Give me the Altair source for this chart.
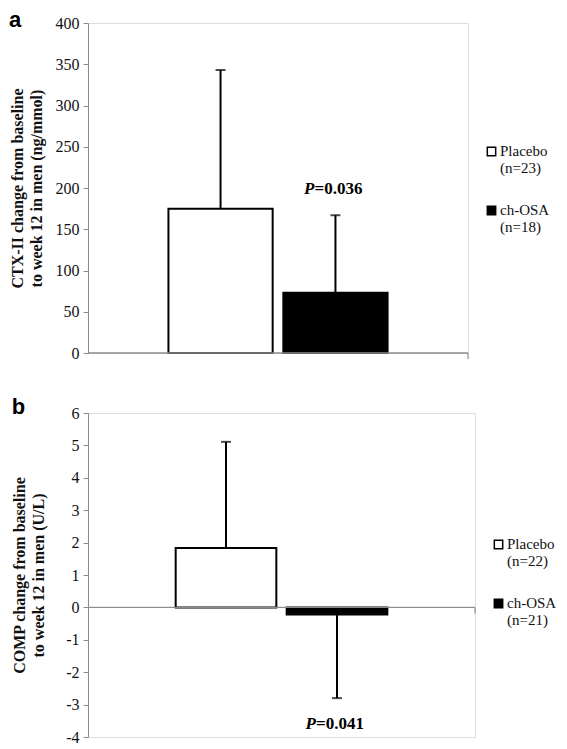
import altair as alt
import pandas as pd

treatments = ["Placebo", "ch-OSA"]

ctx_n = [23, 18]
ctx_mean = [175, 73]
ctx_sd = [168, 94]
ctx_p = "0.036"

comp_n = [22, 21]
comp_mean = [1.83, -0.22]
comp_sd = [3.28, 2.58]
comp_p = "0.041"

ctx_ticks = [0, 50, 100, 150, 200, 250, 300, 350, 400]
comp_ticks = [-4, -3, -2, -1, 0, 1, 2, 3, 4, 5, 6]

SERIF = "Liberation Serif"
# square legend symbol, nudged down so it sits beside the first label line
SQUARE_LOW = "M-1,0.9H1V2.9H-1Z"


def make_df(means, sds, ns):
    rows = []
    for t, m, s, n in zip(treatments, means, sds, ns):
        sign = 1 if m >= 0 else -1
        rows.append({
            "label": f"{t}|(n={n})",
            "mean": m,
            "err_end": m + sign * s,
        })
    return pd.DataFrame(rows)


def panel(means, sds, ns, p_text, p_y, ticks, ytitle, letter, width, height,
          pad_outer, legend_y, title_pad, title_offset):
    df = make_df(means, sds, ns)
    labels = list(df["label"])
    xenc = alt.X("label:N", sort=labels, axis=None,
                 scale=alt.Scale(paddingInner=0.093, paddingOuter=pad_outer))
    yscale = alt.Scale(domain=[ticks[0], ticks[-1]], nice=False)
    yaxis = alt.Axis(values=ticks, grid=False, domainColor="#8c8c8c",
                     tickColor="#8c8c8c", tickSize=5, labelFont=SERIF,
                     labelFontSize=16, labelColor="#111", labelPadding=4,
                     labelExpr="datum.value + ''",
                     title=ytitle, titleFont=SERIF, titleFontSize=16,
                     titleFontWeight="bold", titleColor="#111",
                     titlePadding=title_pad, titleLineHeight=19)

    def Y(field):
        return alt.Y(field, scale=yscale, axis=yaxis)

    base = alt.Chart(df)
    bars = base.mark_bar(stroke="black", strokeWidth=2).encode(
        x=xenc,
        y=Y("mean:Q"),
        color=alt.Color(
            "label:N",
            sort=labels,
            scale=alt.Scale(domain=labels, range=["white", "black"]),
            legend=alt.Legend(
                title=None, orient="none", legendX=width + 16,
                legendY=legend_y, labelExpr="split(datum.label, '|')",
                labelFont=SERIF, labelFontSize=15, labelColor="#111",
                labelOffset=1,
                symbolType=SQUARE_LOW, symbolSize=70,
                symbolStrokeColor="black", symbolStrokeWidth=1.5,
                rowPadding=19, labelLimit=0, labelBaseline="top",
            ),
        ),
    )
    err = base.mark_rule(color="black", strokeWidth=2).encode(
        x=xenc, y=Y("mean:Q"), y2="err_end:Q")
    cap = base.mark_tick(color="black", thickness=2, size=10,
                         orient="horizontal").encode(
        x=xenc, y=Y("err_end:Q"))
    zero = alt.Chart(df).mark_rule(color="#8c8c8c", strokeWidth=1).encode(
        y=alt.datum(0, scale=yscale, axis=yaxis), x=alt.value(0),
        x2=alt.value(width))
    endtick = alt.Chart(df).mark_tick(color="#8c8c8c", thickness=1, size=6,
                                      orient="vertical", yOffset=3).encode(
        y=alt.datum(0, scale=yscale, axis=yaxis), x=alt.value(width))

    ann = pd.DataFrame({"label": [labels[1]], "y": [p_y], "p": ["=" + p_text]})
    p_it = alt.Chart(ann).mark_text(
        text="P", font=SERIF, fontSize=17, fontStyle="italic",
        fontWeight="bold", align="right", dx=-21, color="black").encode(
        x=xenc, y=Y("y:Q"))
    p_num = alt.Chart(ann).mark_text(
        font=SERIF, fontSize=17, fontWeight="bold", align="left", dx=-21,
        color="black").encode(
        x=xenc, y=Y("y:Q"), text="p:N")

    return alt.layer(bars, zero, endtick, err, cap, p_it, p_num).properties(
        width=width, height=height,
        title=alt.TitleParams(letter, anchor="start", font="Liberation Sans",
                              fontSize=22, fontWeight="bold", color="black",
                              offset=title_offset, frame="bounds"),
    )


pa = panel(ctx_mean, ctx_sd, ctx_n, ctx_p, 199, ctx_ticks,
           ["CTX-II change from baseline", "to week 12 in men (ng/mmol)"],
           "a", 380, 330, 0.70, 113, 11, -17)
pb = panel(comp_mean, comp_sd, comp_n, comp_p, -3.6, comp_ticks,
           ["COMP change from baseline", "to week 12 in men (U/L)"],
           "b", 387, 324, 0.79, 116, 19, -14)

chart = alt.concat(pa, pb, columns=1, align="none", spacing=33).resolve_scale(
    color="independent", y="independent", x="independent"
).resolve_legend(color="independent").properties(
    padding=0
).configure_view(stroke=None).configure(background="white")

chart.save("out.html", embed_options={"renderer": "svg", "actions": False})
